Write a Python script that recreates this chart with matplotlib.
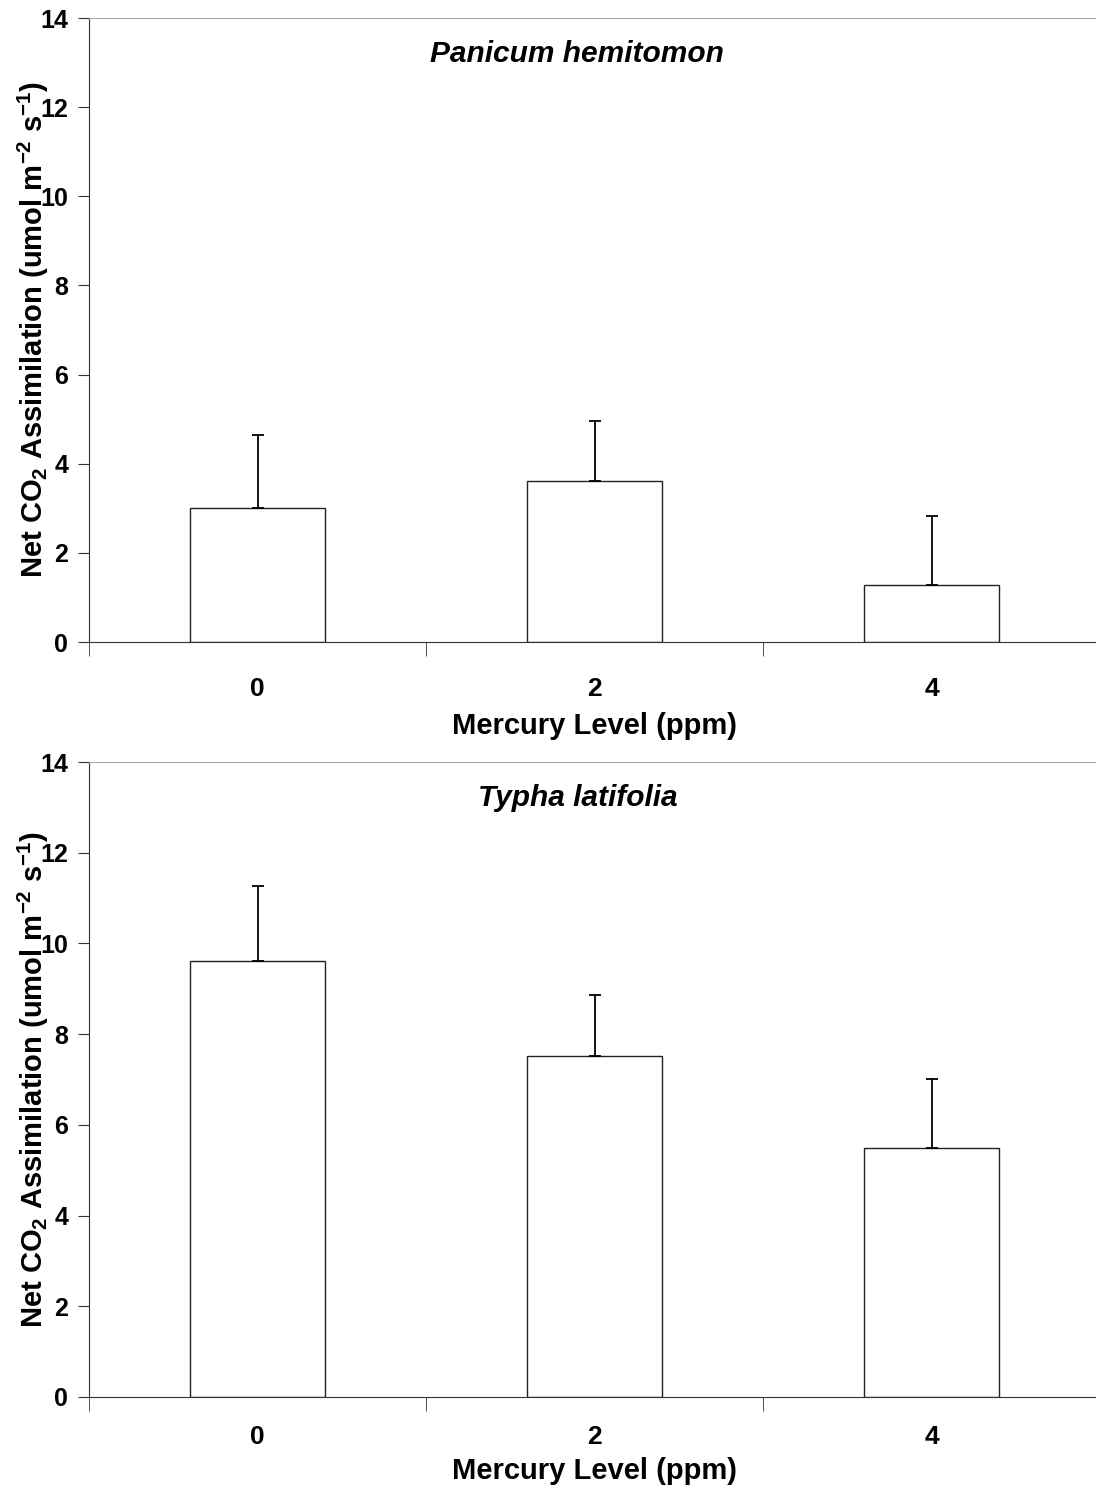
import numpy as np
import matplotlib.pyplot as plt
from matplotlib.ticker import FixedLocator

plt.rcParams['font.family'] = ['Liberation Sans', 'DejaVu Sans']
plt.rcParams['font.weight'] = 'bold'
plt.rcParams['mathtext.default'] = 'regular'

levels = ["0", "2", "4"]
species = ["Panicum hemitomon", "Typha latifolia"]
panicum_mean = [3.0, 3.61, 1.29]
panicum_err = [1.65, 1.34, 1.54]
typha_mean = [9.62, 7.51, 5.49]
typha_err = [1.65, 1.35, 1.53]

fig = plt.figure(figsize=(10.96, 14.90), dpi=100)
ax1 = fig.add_axes([89/1096, 1-642/1490, 1011/1096, 624/1490])
ax2 = fig.add_axes([89/1096, 1-1397/1490, 1011/1096, 635/1490])

ylab = "Net CO$_2$ Assimilation (umol m$^{-2}$ s$^{-1}$)"
panels = [(ax1, species[0], panicum_mean, panicum_err, 25, 8),
          (ax2, species[1], typha_mean, typha_err, 20, 6)]
for ax, name, mean, err, tpad, lpad in panels:
    x = np.arange(len(levels))
    ax.bar(x, mean, width=0.4, color="white", edgecolor="#222222", linewidth=1.0, zorder=2)
    ax.errorbar(x, mean, yerr=[np.zeros(len(err)), err], fmt="none", ecolor="black",
                elinewidth=1.3, capsize=4.5, capthick=1.3, zorder=3)
    ax.set_xlim(-0.5, 2.5)
    ax.set_ylim(0, 14)
    ax.set_yticks(np.arange(0, 15, 2))
    ax.set_xticks(x)
    ax.set_xticklabels(levels, fontsize=19, fontweight="bold")
    ax.xaxis.set_minor_locator(FixedLocator([-0.5, 0.5, 1.5, 2.5]))
    ax.tick_params(axis="x", which="major", length=0, pad=tpad)
    ax.tick_params(axis="x", which="minor", length=10, direction="out", color="#333333")
    ax.tick_params(axis="y", length=8, direction="out", color="#333333", labelsize=18, pad=7)
    for lab in ax.get_yticklabels():
        lab.set_fontweight("bold")
    ax.spines["right"].set_visible(False)
    ax.spines["top"].set_color("#aaaaaa")
    ax.spines["left"].set_color("#333333")
    ax.spines["bottom"].set_color("#333333")
    ax.set_xlabel("Mercury Level (ppm)", fontsize=21, fontweight="bold", labelpad=lpad)
    ax.set_ylabel(ylab, fontsize=21, fontweight="bold")
    ax.yaxis.set_label_coords(-0.038, 0.5)
    ax.text(0.483, 0.943, name, transform=ax.transAxes, ha="center", va="center",
            fontsize=21.5, fontweight="bold", style="italic")

fig.savefig("out.png", dpi=100)
